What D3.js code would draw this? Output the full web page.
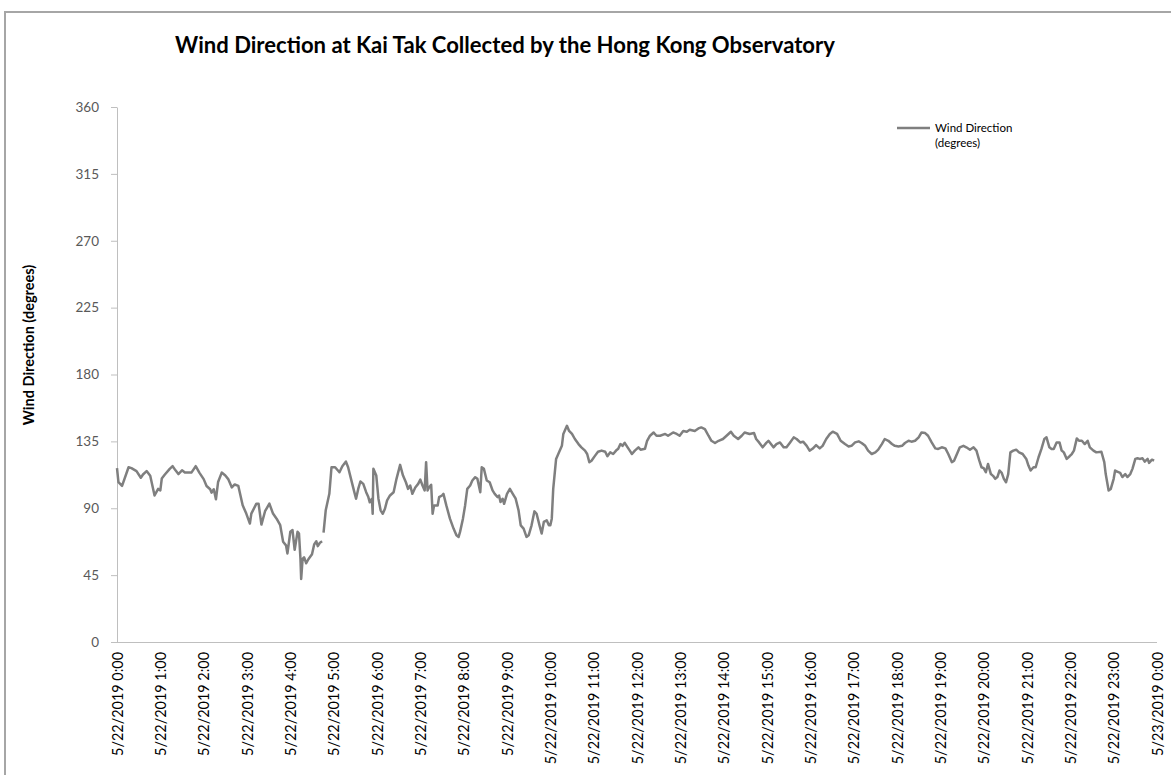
<!DOCTYPE html>
<html>
<head>
<meta charset="utf-8">
<script src="https://cdn.jsdelivr.net/npm/d3@7"></script>
<style>
  html, body { margin: 0; padding: 0; background: #fff; }
  svg { display: block; }
  text { font-family: Lato, "Open Sans", sans-serif; }
</style>
</head>
<body>
<svg id="chart" width="1171" height="775"></svg>
<script>
// ---- data ----
const chartTitle = "Wind Direction at Kai Tak Collected by the Hong Kong Observatory";
const yAxisTitle = "Wind Direction (degrees)";
const legendLines = ["Wind Direction", "(degrees)"];

// y-axis ticks (degrees)
const yTicks = [0, 45, 90, 135, 180, 225, 270, 315, 360];

// x-axis tick labels (one per hour)
const xTickLabels = [
  "5/22/2019 0:00", "5/22/2019 1:00", "5/22/2019 2:00", "5/22/2019 3:00",
  "5/22/2019 4:00", "5/22/2019 5:00", "5/22/2019 6:00", "5/22/2019 7:00",
  "5/22/2019 8:00", "5/22/2019 9:00", "5/22/2019 10:00", "5/22/2019 11:00",
  "5/22/2019 12:00", "5/22/2019 13:00", "5/22/2019 14:00", "5/22/2019 15:00",
  "5/22/2019 16:00", "5/22/2019 17:00", "5/22/2019 18:00", "5/22/2019 19:00",
  "5/22/2019 20:00", "5/22/2019 21:00", "5/22/2019 22:00", "5/22/2019 23:00",
  "5/23/2019 0:00"
];
const xTickMinutes = [0,60,120,180,240,300,360,420,480,540,600,660,720,780,840,900,960,1020,1080,1140,1200,1260,1320,1380,1440];

// observation time (minutes after 5/22/2019 0:00)
const obsMinutes = [
  0,2,7,16,20,27,33,36,41,46,52,57,60,62,66,73,77,81,85,90,94,103,109,114,120,124,129,131,134,137,140,145,150,154,159,163,168,174,179,184,186,193,196,200,205,211,216,221,226,230,234,236,240,243,246,250,252,254,255,257,259,262,265,270,273,276,278,281,284,
  285,
  286,289,294,297,302,308,312,317,320,324,328,331,334,337,341,345,348,350,353,354,355,359,362,365,368,371,374,378,383,387,392,396,400,403,406,409,413,417,420,423,426,428,430,432,435,437,439,444,446,450,452,456,461,466,470,473,475,479,482,485,489,492,496,499,503,505,508,512,516,520,523,527,529,531,534,536,540,544,548,552,556,559,563,567,570,574,578,581,585,588,591,595,598,600,602,604,608,611,616,618,623,626,630,
  634,639,643,648,651,654,657,662,666,671,676,679,683,687,691,694,697,700,703,707,710,713,717,722,725,731,734,738,743,747,752,759,763,770,775,779,784,789,793,800,805,809,814,819,823,828,833,839,844,850,854,860,865,869,876,882,885,889,894,899,902,
  909,913,918,923,927,932,937,941,946,950,955,959,963,968,973,977,982,987,991,997,1002,1008,1013,1017,1022,1027,1031,1036,1040,1045,1050,1054,1059,1063,1068,1073,1077,1082,1087,1091,1096,1100,1105,1110,1114,1119,1123,1128,1133,1137,1142,1147,1151,1156,1159,1163,1167,
  1172,1176,1181,1186,1190,1194,1197,1200,1203,1206,1210,1213,1216,1219,1222,1225,1228,1231,1234,1237,1241,1245,1249,1254,1259,1262,1265,1269,1272,1276,1280,1284,1287,1291,1294,1297,1301,1305,1308,1311,1315,1319,1322,1325,1329,1332,1336,1340,1344,1347,1352,1356,1363,1367,1369,1373,1376,1380,1382,1385,1389,1392,1396,1399,1403,1406,1410,1413,1416,1420,1423,1427,1429,1433,1436
];

// wind direction (degrees); null = missing reading
const windDirection = [
  117,107.5,105,117.6,117,115,110.5,112.7,115,111.8,98.6,103,102,110,112.5,116.5,118.3,115.5,113,115.5,114,114,118.3,114,109.6,105,102.8,100.5,102.8,96,107.7,114,112,109.6,104,106,105,92,86.4,79.7,86.4,93.1,93.1,79,88,93.1,86.4,83,78.6,67.4,65,59.6,74.2,75.3,62,74.2,73,56,42.4,56,57,53,55.7,59,65.6,67.8,64.5,66.8,67.8,
  null,
  73.6,88.6,99.7,117.6,117.6,114.2,118.3,121.4,117.6,109.8,102,96.4,103,108,106.4,100.8,97.5,94,96.4,86.3,116.5,112,96.4,88.6,86.3,89.7,95.3,98.6,100.8,109.8,119.2,112,107.5,103,105.3,99.7,104,106.4,109.3,105.3,102,121,102,104,105.8,86.3,91.9,91.9,97.5,98.6,99.7,91.9,83,76.3,71.8,70.7,74.1,83,91.9,103,105.3,108.7,110.9,109.8,100.8,117.6,116.5,108.7,107.5,102,99.7,97.5,98.6,94.2,96.4,93,99.7,103,99.7,96.4,88.6,78.5,76.3,70.7,71.8,78.5,87.9,86.3,78.5,73,80.8,81.9,78.5,78.5,83,103,123.2,126.5,132,140,145.5,142,140,
  136.6,133.2,131,128.8,126.5,121,122,125.4,128,128.8,128,125,127.6,126.5,128.8,130,133.2,132,134,131,128.8,126.5,128.8,131,129.4,130,135.4,138.8,141,138.8,138.8,140,138.8,141,140,138.8,142,141.5,142.8,142,143.7,144.4,143.3,138.8,135.4,133.9,135.4,136.6,138.8,141.5,138.8,136.6,138.8,141,140,140.6,136.6,134.3,131,134,135.4,
  131,133.2,134.3,131,131,134.3,137.7,136.6,134.3,134.8,132,128.8,130,132.5,130.3,132,136.6,140,141.5,140,135.4,133.2,131.6,132,134.3,135,133.9,132,128.8,126.5,127.6,129.4,133.2,136.6,135.4,133.2,132,131.6,132,133.9,135.4,134.8,135.4,137.7,141,140.6,138.8,134.3,130.3,129.9,131,130.3,126.5,121,122,126.5,131,
  132,131,129.4,131,128.8,122,117.6,117,114.2,119.8,113,111.8,109.8,111,115.4,113.8,109.8,107.5,113,127.6,128.8,129.4,127.6,126.5,123.2,118.7,115.4,117.6,117.6,124.3,129.9,136.6,137.7,131,129.9,129.9,134.3,134.3,128.8,127.6,123.2,125,126.5,128.8,137,135.4,135.4,133.2,135.4,131,128.8,127.6,128,121,113,102,103,109.8,115.4,114.6,113.8,111,113,111,113,116.5,123.2,123.6,123.2,123.6,121.4,123.2,120.5,122.7,122
];

// ---- drawing ----
const svg = d3.select("#chart");
const W = 1171, H = 775;
const margin = { left: 117, right: 1171 - 1157, top: 107, bottom: 775 - 642 };

const series = obsMinutes.map((m, i) => ({ m, v: windDirection[i] }));

const x = d3.scaleLinear().domain([0, 1440]).range([margin.left, W - margin.right]);
const y = d3.scaleLinear().domain([0, 360]).range([H - margin.bottom, margin.top]);

const axisGray = "#bfbfbf";
const labelGray = "#595959";

// frame of the chart object (partly cropped in the reference)
svg.append("path")
  .attr("d", `M5,${H} L5,12 L${W},12`)
  .attr("fill", "none")
  .attr("stroke", "#a6a6a6")
  .attr("stroke-width", 2);

function fitFont(sel, targetWidth, base) {
  sel.style("font-size", base + "px");
  const w = sel.node().getComputedTextLength();
  const fs = base * targetWidth / w;
  sel.style("font-size", fs.toFixed(2) + "px");
  return fs;
}

// title
const title = svg.append("text")
  .attr("x", 505).attr("y", 53)
  .attr("text-anchor", "middle")
  .style("font-weight", "bold")
  .attr("fill", "#000")
  .text(chartTitle);
fitFont(title, 660, 20);

// y axis
const yAxis = d3.axisLeft(y).tickValues(yTicks).tickSizeInner(6).tickSizeOuter(0).tickPadding(12);
const gy = svg.append("g").attr("transform", `translate(${margin.left},0)`).call(yAxis);
gy.select(".domain").attr("stroke", axisGray);
gy.selectAll(".tick line").attr("stroke", axisGray);
gy.selectAll(".tick text").attr("fill", labelGray).style("font-size", "13.5px")
  .style("font-family", "Lato, sans-serif");

// x axis
const xAxis = d3.axisBottom(x).tickValues(xTickMinutes)
  .tickFormat((d, i) => xTickLabels[i]).tickSize(0).tickPadding(0);
const gx = svg.append("g").attr("transform", `translate(0,${H - margin.bottom})`).call(xAxis);
gx.select(".domain").attr("stroke", axisGray)
  .attr("d", `M${margin.left - 6},0.5H${W - margin.right}`);
gx.selectAll(".tick text")
  .attr("fill", "#000")
  .style("font-family", "Lato, sans-serif")
  .attr("text-anchor", "end")
  .attr("transform", "rotate(-90)")
  .attr("x", -10).attr("y", 0).attr("dy", "0.35em");
const firstLbl = gx.select(".tick text");
const xfs = fitFont(firstLbl, 104, 13);
gx.selectAll(".tick text").style("font-size", xfs.toFixed(2) + "px");

// y axis title
svg.append("text")
  .attr("transform", `translate(34,345) rotate(-90)`)
  .attr("text-anchor", "middle")
  .style("font-weight", "bold")
  .style("font-size", "14.5px")
  .attr("fill", "#000")
  .text(yAxisTitle);

// line
const line = d3.line()
  .defined(d => d.v !== null)
  .x(d => x(d.m))
  .y(d => y(d.v));
svg.append("path")
  .datum(series)
  .attr("fill", "none")
  .attr("stroke", "#7f7f7f")
  .attr("stroke-width", 2.5)
  .attr("stroke-linejoin", "round")
  .attr("d", line);

// legend
const lg = svg.append("g").attr("transform", "translate(897,128)");
lg.append("line").attr("x1", 0).attr("x2", 33).attr("y1", 0).attr("y2", 0)
  .attr("stroke", "#7f7f7f").attr("stroke-width", 2.5);
lg.selectAll("text.lg").data(legendLines).enter().append("text")
  .attr("class", "lg")
  .attr("x", 38).attr("y", (d, i) => 4 + i * 15)
  .style("font-size", "11.5px")
  .attr("fill", "#000")
  .text(d => d);
</script>
</body>
</html>
